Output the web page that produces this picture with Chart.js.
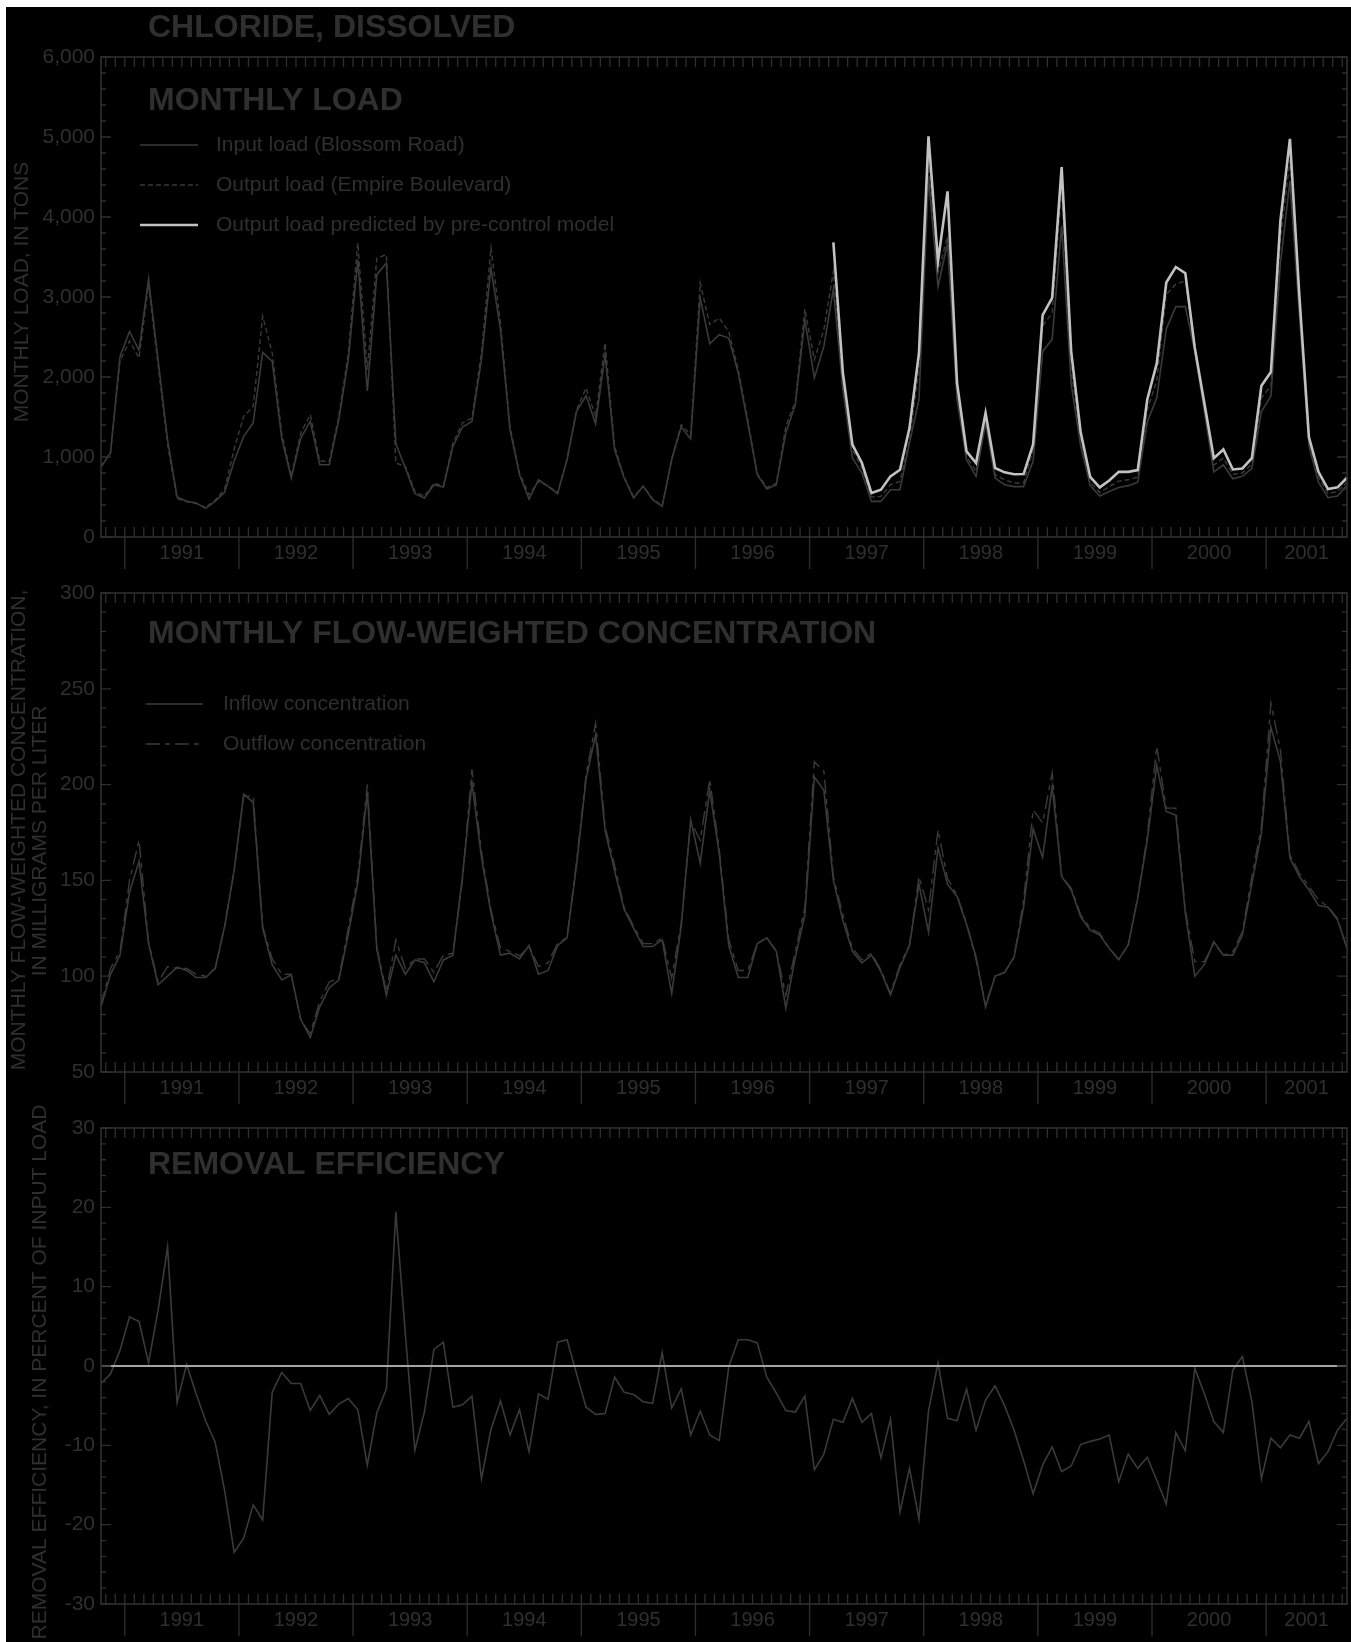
<!DOCTYPE html>
<html>
<head>
<meta charset="utf-8">
<script src="https://cdn.jsdelivr.net/npm/chart.js@4.4.1/dist/chart.umd.min.js"></script>
<style>
  html, body { margin: 0; padding: 0; background: #fff; }
  #page { position: relative; width: 1351px; height: 1642px; overflow: hidden; background: #fff; }
  #ground { position: absolute; left: 6px; top: 7px; right: 0; bottom: 0; background: #000; }
  canvas { position: absolute; left: 0; top: 0; }
</style>
</head>
<body>
<div id="page">
  <div id="ground"></div>
  <canvas id="cLoad" width="1351" height="1642"></canvas>
  <canvas id="cConc" width="1351" height="1642"></canvas>
  <canvas id="cEff" width="1351" height="1642"></canvas>
</div>
<script>
// Monthly series, October 1990 through September 2001 (water years 1991-2001).
const firstYear = 1990, firstMonth = 10, monthCount = 132;
const months = Array.from({ length: monthCount }, (_, i) => {
  const t = firstMonth - 1 + i;
  return (firstYear + Math.floor(t / 12)) + '-' + String(t % 12 + 1).padStart(2, '0');
});
const yearLabels = ['1991','1992','1993','1994','1995','1996','1997','1998','1999','2000','2001'];

// ── Monthly load, tons ──────────────────────────────────────────────
const loadInput = [
  875,1050,2258,2570,2333,3225,2216,1216,500,446,
  425,358,446,558,950,1258,1425,2308,2196,1237,
  737,1237,1445,904,904,1466,2216,3466,1825,3279,
  3425,1166,862,541,487,654,625,1133,1375,1445,
  2216,3362,2591,1341,779,475,716,633,541,966,
  1570,1766,1416,2279,1091,737,487,633,466,383,
  966,1375,1225,2987,2416,2529,2487,2050,1425,779,
  600,654,1300,1654,2716,1990,2383,3100,1841,987,
  800,445,445,591,591,1175,1716,4508,3133,3675,
  1716,966,758,1425,737,654,630,630,950,2320,
  2471,3891,1911,1137,642,513,569,620,642,685,
  1439,1740,2600,2880,2880,2321,1567,814,900,728,
  759,857,1567,1761,3419,4451,2773,1137,685,491,
  513,642];
const loadOutput = [
  880,1060,2200,2450,2237,3150,2150,1150,480,440,
  420,370,460,600,1100,1508,1633,2758,2300,1300,
  758,1300,1529,946,946,1508,2300,3675,2091,3487,
  3529,925,883,570,508,670,640,1175,1425,1487,
  2300,3612,2675,1383,800,529,696,640,550,980,
  1591,1862,1508,2425,1133,750,500,640,475,390,
  980,1404,1279,3175,2654,2737,2570,2091,1466,790,
  620,670,1383,1695,2850,2216,2591,3320,1925,1091,
  862,500,508,654,695,1216,2091,4716,3300,3758,
  1800,1008,820,1466,779,716,675,675,1091,2640,
  2800,4365,2084,1223,685,556,629,698,715,750,
  1589,1955,3031,3160,3204,2340,1620,900,986,784,
  800,910,1740,1890,3720,4710,2945,1180,750,545,
  569,685];
// pre-control model prediction starts March 1997
const predictedFrom = '1997-03';
const loadPredicted = [
  3683,2050,1154,925,550,591,758,841,1362,2300,
  5008,3445,4320,1925,1070,925,1550,862,808,784,
  787,1159,2773,2988,4624,2321,1309,750,620,706,
  814,814,836,1719,2170,3181,3375,3298,2364,1675,
  986,1094,844,857,986,1890,2063,3956,4976,3000,
  1245,814,599,620,741];
const loadTicks = [0,1000,2000,3000,4000,5000,6000];

// ── Flow-weighted concentration, mg/L ───────────────────────────────
const concInflow = [
  84,101,111,144,160,117,95.5,100,104.7,103,
  99.3,99.3,104,126,155.5,195,190.7,125,106,98,
  100.7,77.5,68,84,94,98,122,149,196,114,
  90,111,101,108.5,107,97,108.5,111,152,201,
  162,133,111,112,109,116,101,103,116,120,
  158,203,226,176,155,135,125,115.5,115.5,119,
  91,126,181.6,159,197,164,116,99.3,99.3,117,
  120,113,83.3,110,132,204,197,150,129,113,
  107,111,102.4,90.2,104.5,116,148,123,167,148,
  141.6,127,110,84,100,102,110,136,177,162,
  199,152,145,131,124,121.5,114.6,108.8,116.3,140.7,
  171,210,186,184,133,100,106,118,111,111,
  121.5,148.5,174.6,230,212,161.6,152,145,137,136,
  129.4,114.6];
const concOutflow = [
  85,104,113,150,171,118,97,105,104,104,
  101,100,104,126,155,194,194,126,109,101,
  101,77,70,87,97,99,125,152,200,115,
  92,119,104,109,109,102,111,112,150,208,
  165,134.6,114.6,113,110.6,115.4,105,107,117,120.3,
  160,205,232,178,158,136,126,117,117,120,
  99,127.6,180.7,171,202.8,166,119,103,103,117,
  120,113,90,113,136,212,207,152,132,114.6,
  108.5,112,103.3,91,106,116.3,152,134.6,176.4,151,
  142.4,127.6,108.5,85,100,102,110,139.8,186.8,180,
  206,152,146,132,125,122.4,114.6,108.5,116.3,141.6,
  173,220,187.7,187.7,134.6,107.6,107.6,117.2,111,112.8,
  123.3,152,178,242.5,218,163.3,153.7,146.8,139.8,136.3,
  130.2,114.6];
const concTicks = [50,100,150,200,250,300];

// ── Removal efficiency, percent of input load ───────────────────────
const removalEff = [
  -2.2,-1.0,2.0,6.2,5.6,0.4,7.0,15.0,-4.6,0.2,
  -3.5,-6.9,-9.6,-15.7,-23.5,-21.7,-17.5,-19.4,-3.3,-0.8,
  -2.2,-2.2,-5.6,-3.7,-6.1,-4.8,-4.1,-5.5,-12.5,-5.9,
  -2.9,19.4,4.0,-10.6,-5.8,2.1,3.0,-5.2,-4.9,-3.8,
  -14.2,-8.0,-4.4,-8.7,-5.5,-10.8,-3.5,-4.2,3.0,3.3,
  -1.0,-5.2,-6.1,-6.0,-1.4,-3.3,-3.6,-4.5,-4.7,1.7,
  -5.3,-2.9,-8.7,-5.7,-8.7,-9.4,-0.1,3.3,3.3,2.9,
  -1.4,-3.4,-5.6,-5.8,-3.8,-13.1,-11.1,-6.7,-7.1,-4.1,
  -7.1,-6.0,-11.6,-6.7,-18.4,-12.9,-19.3,-5.7,0.4,-6.6,
  -6.9,-2.9,-8.1,-4.3,-2.5,-5.0,-8.1,-11.9,-16.1,-12.5,
  -10.2,-13.3,-12.6,-9.9,-9.5,-9.2,-8.7,-14.6,-11.1,-12.9,
  -11.5,-14.4,-17.4,-8.4,-10.7,-0.3,-3.5,-7.0,-8.4,-0.5,
  1.2,-4.5,-14.2,-9.1,-10.3,-8.7,-9.1,-7.0,-12.3,-10.8,
  -8.1,-6.6];
const effTicks = [-30,-20,-10,0,10,20,30];

// ── styling ─────────────────────────────────────────────────────────
const INK  = '#2f2f2f';
const LINE = '#3a3a3a';
const PRED = '#c2c2c2';
const ZERO = '#a6a6a6';
const FONT = '"Liberation Sans", Arial, Helvetica, sans-serif';

// Frame, inward ticks, year axis, titles and legend, all placed from the chart's scales.
const frame = {
  id: 'frame',
  afterDraw(chart, args, o) {
    const { ctx, chartArea: a, scales: { x, y } } = chart;
    ctx.save();
    ctx.strokeStyle = INK;
    ctx.fillStyle = INK;

    ctx.lineWidth = 1.6;
    ctx.strokeRect(a.left, a.top, a.right - a.left, a.bottom - a.top);

    // month ticks top & bottom, year ticks hanging below
    ctx.lineWidth = 1.3;
    ctx.beginPath();
    const yearEdges = [];
    months.forEach((m, i) => {
      if (i === 0) return;
      const px = x.getPixelForValue(i - 0.5);
      ctx.moveTo(px, a.top);    ctx.lineTo(px, a.top + 10);
      ctx.moveTo(px, a.bottom); ctx.lineTo(px, a.bottom - 10);
      if (m.endsWith('-01')) {
        yearEdges.push(px);
        ctx.moveTo(px, a.bottom); ctx.lineTo(px, a.bottom + 32);
      }
    });

    // y ticks, left and right, pointing in
    const t = o.ticks, lo = t[0], hi = t[t.length - 1];
    const steps = Math.round((hi - lo) / o.minor);
    for (let k = 0; k <= steps; k++) {
      const v = lo + k * o.minor;
      const major = t.some(tv => Math.abs(tv - v) < 1e-6);
      const py = y.getPixelForValue(v);
      const len = major ? 10 : 5;
      ctx.moveTo(a.left, py);  ctx.lineTo(a.left + len, py);
      ctx.moveTo(a.right, py); ctx.lineTo(a.right - len, py);
    }
    ctx.stroke();

    // y tick labels
    ctx.font = '21px ' + FONT;
    ctx.textAlign = 'right';
    ctx.textBaseline = 'middle';
    t.forEach(v => ctx.fillText(o.fmt(v), a.left - 6, y.getPixelForValue(v)));

    // year labels, centred in the visible part of each year
    ctx.font = '20px ' + FONT;
    ctx.textAlign = 'center';
    yearLabels.forEach((lab, k) => {
      const l = yearEdges[k], r = k + 1 < yearEdges.length ? yearEdges[k + 1] : a.right;
      ctx.fillText(lab, (l + r) / 2, a.bottom + 16);
    });

    // panel titles
    ctx.font = 'bold 32px ' + FONT;
    ctx.textAlign = 'left';
    o.titles.forEach(tt => ctx.fillText(tt.text, tt.x, tt.y));

    // legend
    o.legend.forEach(it => {
      ctx.save();
      ctx.strokeStyle = it.color;
      ctx.lineWidth = it.width;
      ctx.setLineDash(it.dash || []);
      ctx.beginPath();
      ctx.moveTo(it.x1, it.y); ctx.lineTo(it.x2, it.y);
      ctx.stroke();
      ctx.restore();
      ctx.font = '21px ' + FONT;
      ctx.fillStyle = INK;
      ctx.textAlign = 'left';
      ctx.fillText(it.text, it.tx, it.y);
    });

    // rotated axis titles
    ctx.font = '21px ' + FONT;
    ctx.textAlign = 'center';
    o.axisTitles.forEach(at => {
      ctx.save();
      ctx.translate(at.x, at.y);
      ctx.rotate(-Math.PI / 2);
      ctx.fillText(at.text, 0, 0);
      ctx.restore();
    });
    ctx.restore();
  }
};

function lineSet(label, data, color, width, dash) {
  return {
    label, data,
    borderColor: color,
    borderWidth: width,
    borderDash: dash || [],
    pointRadius: 0,
    tension: 0,
    fill: false,
    spanGaps: false,
    borderJoinStyle: 'miter',
  };
}

function makePanel(id, datasets, ticks, pad, deco) {
  return new Chart(document.getElementById(id), {
    type: 'line',
    data: { labels: months, datasets },
    options: {
      responsive: false,
      animation: false,
      devicePixelRatio: 1,
      events: [],
      layout: { padding: pad },
      scales: {
        x: { type: 'category', display: false, offset: false },
        y: { type: 'linear', display: false, min: ticks[0], max: ticks[ticks.length - 1] },
      },
      plugins: {
        legend: { display: false },
        tooltip: { enabled: false },
        frame: { ticks, ...deco },
      },
    },
    plugins: [frame],
  });
}

const predStart = months.indexOf(predictedFrom);
const predictedSeries = months.map((_, i) => i < predStart ? null : loadPredicted[i - predStart]);

makePanel('cLoad', [
  lineSet('Output load predicted by pre-control model', predictedSeries, PRED, 2.6),
  lineSet('Input load (Blossom Road)', loadInput, LINE, 1.6),
  lineSet('Output load (Empire Boulevard)', loadOutput, LINE, 1.4, [5, 3]),
], loadTicks, { left: 101, right: 4, top: 57, bottom: 1642 - 537 }, {
  minor: 200,
  fmt: v => v.toLocaleString('en-US'),
  titles: [
    { text: 'CHLORIDE, DISSOLVED', x: 148, y: 28 },
    { text: 'MONTHLY LOAD', x: 148, y: 101 },
  ],
  legend: [
    { text: 'Input load (Blossom Road)', x1: 140, x2: 198, tx: 216, y: 145, color: LINE, width: 1.6 },
    { text: 'Output load (Empire Boulevard)', x1: 140, x2: 198, tx: 216, y: 185, color: LINE, width: 1.4, dash: [5, 3] },
    { text: 'Output load predicted by pre-control model', x1: 140, x2: 198, tx: 216, y: 225, color: PRED, width: 2.6 },
  ],
  axisTitles: [ { text: 'MONTHLY LOAD, IN TONS', x: 22, y: 292 } ],
});

makePanel('cConc', [
  lineSet('Inflow concentration', concInflow, LINE, 1.6),
  lineSet('Outflow concentration', concOutflow, LINE, 1.4, [14, 5, 5, 5]),
], concTicks, { left: 101, right: 4, top: 593, bottom: 1642 - 1072 }, {
  minor: 10,
  fmt: v => String(v),
  titles: [ { text: 'MONTHLY FLOW-WEIGHTED CONCENTRATION', x: 148, y: 634 } ],
  legend: [
    { text: 'Inflow concentration', x1: 146, x2: 203, tx: 223, y: 704, color: LINE, width: 1.6 },
    { text: 'Outflow concentration', x1: 146, x2: 203, tx: 223, y: 744, color: LINE, width: 1.4, dash: [14, 5, 5, 5] },
  ],
  axisTitles: [
    { text: 'MONTHLY FLOW-WEIGHTED CONCENTRATION,', x: 19, y: 830 },
    { text: 'IN MILLIGRAMS PER LITER', x: 40, y: 841 },
  ],
});

makePanel('cEff', [
  lineSet('zero', months.map(() => 0), ZERO, 2.2),
  lineSet('Removal efficiency', removalEff, LINE, 1.6),
], effTicks, { left: 101, right: 4, top: 1128, bottom: 1642 - 1604 }, {
  minor: 2,
  fmt: v => String(v),
  titles: [ { text: 'REMOVAL EFFICIENCY', x: 148, y: 1165 } ],
  legend: [],
  axisTitles: [ { text: 'REMOVAL EFFICIENCY, IN PERCENT OF INPUT LOAD', x: 40, y: 1372 } ],
});
</script>
</body>
</html>
